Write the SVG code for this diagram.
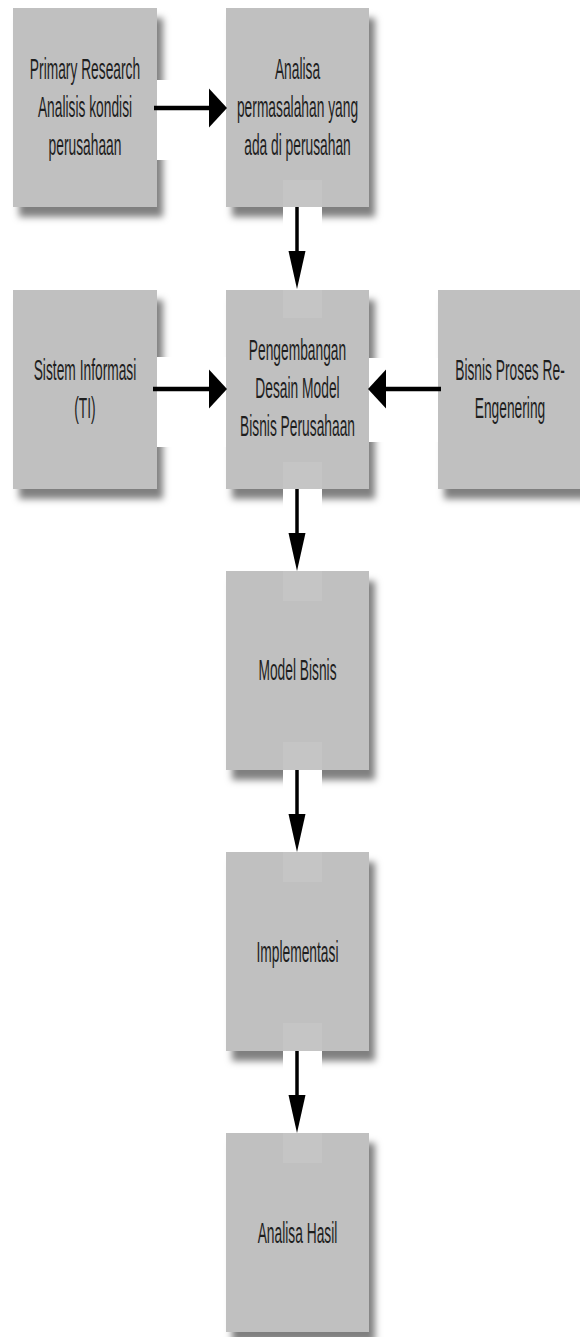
<svg xmlns="http://www.w3.org/2000/svg" xmlns:xlink="http://www.w3.org/1999/xlink" width="580" height="1337" viewBox="0 0 580 1337">
<style>
.box{fill:#c0c0c0;filter:url(#sh)}
.t{font-family:"Liberation Sans",Arial,sans-serif;font-size:30px;fill:#1e1e1e;text-anchor:middle}
.ln{stroke:#000;fill:none}
.h{fill:#000}
.band{fill:#fff}
.lite{fill:#fff;opacity:0.08}
</style>
<defs>
<filter id="sh" x="-10%" y="-10%" width="130%" height="130%">
<feDropShadow dx="6" dy="10" stdDeviation="3.5" flood-color="#000" flood-opacity="0.5"/>
</filter>
<polygon id="hR" points="0,-19.5 18,0 0,19.5"/>
<polygon id="hL" points="0,-19.5 -18,0 0,19.5"/>
<polygon id="hD" points="-8.5,0 8.5,0 0,38"/>
</defs>
<rect width="580" height="1337" fill="#fff"/>

<g id="n1">
<rect class="box" x="13" y="8" width="144" height="199"/>
<text class="t" transform="translate(85,0) scale(0.46,1)"><tspan x="0" y="79">Primary Research</tspan><tspan x="0" y="117">Analisis kondisi</tspan><tspan x="0" y="155">perusahaan</tspan></text>
</g>
<g id="n2">
<rect class="box" x="226" y="8" width="143" height="199"/>
<text class="t" transform="translate(297.5,0) scale(0.46,1)"><tspan x="0" y="79">Analisa</tspan><tspan x="0" y="117">permasalahan yang</tspan><tspan x="0" y="155">ada di perusahan</tspan></text>
</g>
<g id="n3">
<rect class="box" x="13" y="290" width="144" height="199"/>
<text class="t" transform="translate(85,0) scale(0.46,1)"><tspan x="0" y="380">Sistem Informasi</tspan><tspan x="0" y="418">(TI)</tspan></text>
</g>
<g id="n4">
<rect class="box" x="226" y="290" width="143" height="199"/>
<text class="t" transform="translate(297.5,0) scale(0.46,1)"><tspan x="0" y="360">Pengembangan</tspan><tspan x="0" y="398">Desain Model</tspan><tspan x="0" y="436">Bisnis Perusahaan</tspan></text>
</g>
<g id="n5">
<rect class="box" x="438" y="290" width="146" height="199"/>
<text class="t" transform="translate(510,0) scale(0.46,1)"><tspan x="0" y="380">Bisnis Proses Re-</tspan><tspan x="0" y="418">Engenering</tspan></text>
</g>
<g id="n6">
<rect class="box" x="226" y="571" width="143" height="199"/>
<text class="t" transform="translate(297.5,0) scale(0.46,1)" x="0" y="680">Model Bisnis</text>
</g>
<g id="n7">
<rect class="box" x="226" y="852" width="143" height="199"/>
<text class="t" transform="translate(297.5,0) scale(0.46,1)" x="0" y="962">Implementasi</text>
</g>
<g id="n8">
<rect class="box" x="226" y="1133" width="143" height="199"/>
<text class="t" transform="translate(297.5,0) scale(0.46,1)" x="0" y="1243">Analisa Hasil</text>
</g>

<g id="connectors">
<rect class="band" x="157" y="80" width="69" height="80"/>
<rect class="band" x="157" y="357" width="69" height="90"/>
<rect class="band" x="369" y="358" width="69" height="84"/>
<rect class="band" x="283" y="207" width="39" height="83"/>
<rect class="band" x="283" y="489" width="39" height="82"/>
<rect class="band" x="283" y="770" width="39" height="82"/>
<rect class="band" x="283" y="1051" width="39" height="82"/>
<rect class="lite" x="283" y="180" width="39" height="27"/>
<rect class="lite" x="283" y="290" width="39" height="28"/>
<rect class="lite" x="283" y="462" width="39" height="27"/>
<rect class="lite" x="283" y="571" width="39" height="30"/>
<rect class="lite" x="283" y="742" width="39" height="28"/>
<rect class="lite" x="283" y="852" width="39" height="30"/>
<rect class="lite" x="283" y="1023" width="39" height="28"/>
<rect class="lite" x="283" y="1133" width="39" height="30"/>

<line class="ln" x1="154" y1="108" x2="210" y2="108" stroke-width="4.5"/>
<use xlink:href="#hR" class="h" x="209" y="108"/>
<line class="ln" x1="297" y1="207" x2="297" y2="252" stroke-width="3.5"/>
<use xlink:href="#hD" class="h" x="297" y="251"/>
<line class="ln" x1="153" y1="389" x2="210" y2="389" stroke-width="4.5"/>
<use xlink:href="#hR" class="h" x="209" y="389"/>
<line class="ln" x1="441" y1="389" x2="385" y2="389" stroke-width="4.5"/>
<use xlink:href="#hL" class="h" x="386" y="389"/>
<line class="ln" x1="297" y1="489" x2="297" y2="534" stroke-width="3.5"/>
<use xlink:href="#hD" class="h" x="297" y="533"/>
<line class="ln" x1="297" y1="770" x2="297" y2="815" stroke-width="3.5"/>
<use xlink:href="#hD" class="h" x="297" y="814"/>
<line class="ln" x1="297" y1="1051" x2="297" y2="1096" stroke-width="3.5"/>
<use xlink:href="#hD" class="h" x="297" y="1095"/>
</g>
</svg>
